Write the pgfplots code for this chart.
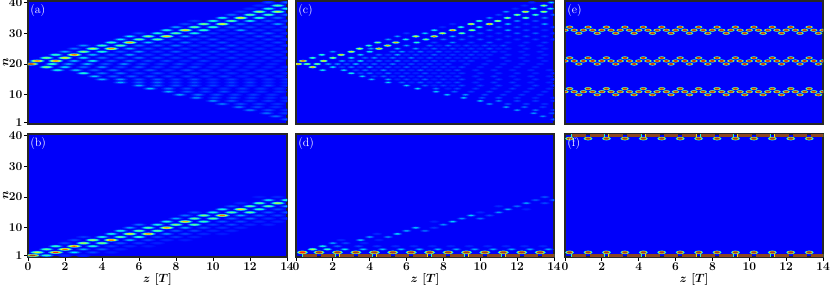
\documentclass[border=0pt]{standalone}
\usepackage{pgfplots}
\usepackage{pgfplotstable}
\pgfplotsset{compat=1.18}
\pgfplotstableread[row sep=\\]{z n v\\
13 40 .2\\ 14 40 .25\\
12.5 39 .15\\ 13.5 39 .5\\
12 38 .15\\ 13 38 .42\\ 14 38 .42\\
11.5 37 .18\\ 12.5 37 .58\\ 13.5 37 .62\\
11 36 .25\\ 12 36 .5\\ 13 36 .48\\ 14 36 .25\\
10.5 35 .4\\ 11.5 35 .68\\ 12.5 35 .45\\ 13.5 35 .25\\
9 34 .18\\ 10 34 .42\\ 11 34 .5\\ 12 34 .38\\ 13 34 .22\\ 14 34 .18\\
8.5 33 .2\\ 9.5 33 .55\\ 10.5 33 .68\\ 11.5 33 .25\\ 12.5 33 .18\\ 13.5 33 .3\\
8 32 .3\\ 9 32 .5\\ 10 32 .45\\ 11 32 .22\\ 12 32 .2\\ 13 32 .15\\ 14 32 .2\\
7.5 31 .4\\ 8.5 31 .72\\ 9.5 31 .45\\ 10.5 31 .18\\ 11.5 31 .3\\ 12.5 31 .18\\ 13.5 31 .15\\
6 30 .2\\ 7 30 .4\\ 8 30 .5\\ 9 30 .4\\ 10 30 .18\\ 11 30 .15\\ 12 30 .2\\ 13 30 .22\\ 14 30 .15\\
5.5 29 .35\\ 6.5 29 .55\\ 7.5 29 .72\\ 8.5 29 .3\\ 9.5 29 .2\\ 10.5 29 .15\\ 11.5 29 .16\\ 12.5 29 .2\\ 13.5 29 .18\\
5 28 .35\\ 6 28 .5\\ 7 28 .5\\ 8 28 .22\\ 9 28 .18\\ 10 28 .2\\ 11 28 .15\\ 12 28 .15\\ 13 28 .18\\ 14 28 .15\\
4.5 27 .45\\ 5.5 27 .75\\ 6.5 27 .32\\ 7.5 27 .2\\ 8.5 27 .25\\ 9.5 27 .16\\ 10.5 27 .2\\ 11.5 27 .14\\ 12.5 27 .14\\ 13.5 27 .18\\
3 26 .28\\ 4 26 .45\\ 5 26 .5\\ 6 26 .25\\ 7 26 .22\\ 8 26 .25\\ 9 26 .18\\ 10 26 .18\\ 11 26 .2\\ 12 26 .15\\ 13 26 .15\\ 14 26 .16\\
2.5 25 .25\\ 3.5 25 .6\\ 4.5 25 .78\\ 5.5 25 .3\\ 6.5 25 .2\\ 7.5 25 .2\\ 8.5 25 .18\\ 9.5 25 .15\\ 10.5 25 .2\\ 11.5 25 .15\\ 12.5 25 .16\\ 13.5 25 .14\\
2 24 .3\\ 3 24 .55\\ 4 24 .42\\ 5 24 .22\\ 6 24 .28\\ 7 24 .18\\ 8 24 .22\\ 9 24 .16\\ 10 24 .18\\ 11 24 .18\\ 12 24 .14\\ 13 24 .16\\ 14 24 .14\\
1.5 23 .45\\ 2.5 23 .85\\ 3.5 23 .32\\ 4.5 23 .22\\ 5.5 23 .3\\ 6.5 23 .18\\ 7.5 23 .2\\ 8.5 23 .15\\ 9.5 23 .18\\ 10.5 23 .15\\ 11.5 23 .16\\ 12.5 23 .15\\ 13.5 23 .15\\
1 22 .55\\ 2 22 .7\\ 3 22 .35\\ 4 22 .25\\ 5 22 .22\\ 6 22 .25\\ 7 22 .2\\ 8 22 .18\\ 9 22 .2\\ 10 22 .15\\ 11 22 .18\\ 12 22 .14\\ 13 22 .16\\ 14 22 .14\\
.5 21 .82\\ 1.5 21 .82\\ 2.5 21 .32\\ 3.5 21 .38\\ 4.5 21 .22\\ 5.5 21 .25\\ 6.5 21 .2\\ 7.5 21 .2\\ 8.5 21 .15\\ 9.5 21 .18\\ 10.5 21 .14\\ 11.5 21 .16\\ 12.5 21 .14\\ 13.5 21 .14\\
.15 20 .98\\ 1.3 20 .45\\ 2.2 20 .3\\ 3.2 20 .32\\ 4.2 20 .22\\ 5.2 20 .28\\ 6.2 20 .2\\ 7.2 20 .18\\ 8.2 20 .2\\ 9.2 20 .15\\ 10.2 20 .16\\ 11.2 20 .14\\ 12.2 20 .15\\ 13.2 20 .14\\
1 19 .55\\ 2 19 .35\\ 3 19 .25\\ 4 19 .28\\ 5 19 .2\\ 6 19 .22\\ 7 19 .18\\ 8 19 .18\\ 9 19 .2\\ 10 19 .14\\ 11 19 .16\\ 12 19 .14\\ 13 19 .14\\ 14 19 .14\\
1.6 18 .38\\ 2.6 18 .32\\ 3.6 18 .22\\ 4.6 18 .25\\ 5.6 18 .18\\ 6.6 18 .22\\ 7.6 18 .16\\ 8.6 18 .2\\ 9.6 18 .16\\ 10.6 18 .16\\ 11.6 18 .14\\ 12.6 18 .15\\ 13.6 18 .14\\
3 17 .42\\ 4 17 .25\\ 5 17 .25\\ 6 17 .18\\ 7 17 .2\\ 8 17 .16\\ 9 17 .18\\ 10 17 .16\\ 11 17 .16\\ 12 17 .16\\ 13 17 .14\\ 14 17 .14\\
3.6 16 .32\\ 4.6 16 .22\\ 5.6 16 .22\\ 6.6 16 .2\\ 7.6 16 .18\\ 8.6 16 .18\\ 9.6 16 .16\\ 10.6 16 .18\\ 11.6 16 .14\\ 12.6 16 .16\\ 13.6 16 .14\\
4 15 .3\\ 5 15 .28\\ 6 15 .2\\ 7 15 .22\\ 8 15 .18\\ 9 15 .2\\ 10 15 .16\\ 11 15 .18\\ 12 15 .14\\ 13 15 .16\\ 14 15 .16\\
5 14 .3\\ 6 14 .22\\ 7 14 .24\\ 8 14 .18\\ 9 14 .2\\ 10 14 .16\\ 11 14 .18\\ 12 14 .18\\ 13 14 .14\\ 14 14 .14\\
6 13 .3\\ 7 13 .22\\ 8 13 .2\\ 9 13 .2\\ 10 13 .18\\ 11 13 .18\\ 12 13 .16\\ 13 13 .18\\ 14 13 .14\\
6.6 12 .32\\ 7.6 12 .25\\ 8.6 12 .2\\ 9.6 12 .18\\ 10.6 12 .16\\ 11.6 12 .18\\ 12.6 12 .16\\ 13.6 12 .15\\
7.6 11 .3\\ 8.6 11 .22\\ 9.6 11 .18\\ 10.6 11 .2\\ 11.6 11 .16\\ 12.6 11 .16\\ 13.6 11 .16\\
8.2 10 .3\\ 9.2 10 .25\\ 10.2 10 .2\\ 11.2 10 .18\\ 12.2 10 .18\\ 13.2 10 .16\\
9.1 9 .28\\ 10.1 9 .2\\ 11.1 9 .2\\ 12.1 9 .18\\ 13.1 9 .16\\ 14 9 .14\\
10 8 .28\\ 11 8 .22\\ 12 8 .18\\ 13 8 .18\\ 14 8 .16\\
10.5 7 .26\\ 11.5 7 .2\\ 12.5 7 .18\\ 13.5 7 .16\\
11.4 6 .26\\ 12.4 6 .2\\ 13.4 6 .16\\
12 5 .26\\ 13 5 .2\\ 14 5 .16\\
12.9 4 .25\\ 13.9 4 .18\\
13.4 3 .24\\
14 2 .22\\
}\tA
\pgfplotstableread[row sep=\\]{z n v\\
.25 1 .98\\ 1 1 .45\\ 2 1 .15\\ 3 1 .1\\
.5 2 .65\\ 1.5 2 .9\\ 2.5 2 .35\\ 3.5 2 .2\\ 4.5 2 .1\\
1 3 .5\\ 2 3 .85\\ 3 3 .3\\ 4 3 .22\\ 5 3 .12\\
1.5 4 .45\\ 2.5 4 .85\\ 3.5 4 .42\\ 4.5 4 .18\\ 5.5 4 .14\\ 6.5 4 .1\\
2 5 .2\\ 3 5 .62\\ 4 5 .55\\ 5 5 .22\\ 6 5 .18\\ 7 5 .12\\
2.5 6 .2\\ 3.5 6 .6\\ 4.5 6 .85\\ 5.5 6 .32\\ 6.5 6 .2\\ 7.5 6 .14\\ 8.5 6 .1\\
3 7 .18\\ 4 7 .4\\ 5 7 .5\\ 6 7 .45\\ 7 7 .2\\ 8 7 .18\\ 9 7 .12\\
4.5 8 .4\\ 5.5 8 .7\\ 6.5 8 .8\\ 7.5 8 .28\\ 8.5 8 .2\\ 9.5 8 .14\\ 10.5 8 .1\\
5 9 .4\\ 6 9 .5\\ 7 9 .5\\ 8 9 .22\\ 9 9 .2\\ 10 9 .14\\ 11 9 .12\\
5.5 10 .3\\ 6.5 10 .5\\ 7.5 10 .78\\ 8.5 10 .3\\ 9.5 10 .2\\ 10.5 10 .16\\ 11.5 10 .12\\
6 11 .25\\ 7 11 .4\\ 8 11 .55\\ 9 11 .5\\ 10 11 .18\\ 11 11 .2\\ 12 11 .14\\ 13 11 .12\\
7.5 12 .4\\ 8.5 12 .75\\ 9.5 12 .45\\ 10.5 12 .22\\ 11.5 12 .2\\ 12.5 12 .14\\ 13.5 12 .12\\
8 13 .3\\ 9 13 .5\\ 10 13 .5\\ 11 13 .22\\ 12 13 .24\\ 13 13 .16\\ 14 13 .14\\
8.5 14 .25\\ 9.5 14 .55\\ 10.5 14 .82\\ 11.5 14 .3\\ 12.5 14 .22\\ 13.5 14 .18\\
9 15 .2\\ 10 15 .4\\ 11 15 .5\\ 12 15 .5\\ 13 15 .22\\ 14 15 .22\\
10.5 16 .4\\ 11.5 16 .7\\ 12.5 16 .45\\ 13.5 16 .2\\
11 17 .22\\ 12 17 .5\\ 13 17 .5\\ 14 17 .3\\
11.5 18 .15\\ 12.5 18 .5\\ 13.5 18 .62\\
13 19 .35\\ 14 19 .45\\
12.5 20 .1\\ 13.5 20 .15\\
}\tB
\pgfplotstableread[row sep=\\]{z n v\\
12.8 40 .15\\ 13.85 40 .35\\
12.4 39 .15\\ 13.45 39 .6\\
11.9 38 .15\\ 12.9 38 .45\\ 13.8 38 .4\\
11.4 37 .3\\ 12.45 37 .75\\ 13.45 37 .65\\
11 36 .2\\ 12 36 .6\\ 13 36 .5\\ 14 36 .25\\
10.5 35 .3\\ 11.47 35 .6\\ 12.47 35 .55\\ 13.5 35 .28\\
9.94 34 .5\\ 10.95 34 .65\\ 12 34 .3\\ 13 34 .22\\
8.5 33 .15\\ 9.5 33 .75\\ 10.5 33 .85\\ 11.5 33 .35\\ 12.5 33 .2\\ 13.5 33 .32\\
7.95 32 .15\\ 8.95 32 .45\\ 9.95 32 .42\\ 11 32 .25\\ 12 32 .22\\ 13 32 .16\\ 14 32 .2\\
7.5 31 .4\\ 8.5 31 .85\\ 9.55 31 .6\\ 10.5 31 .25\\ 11.5 31 .32\\ 12.5 31 .2\\ 13.5 31 .15\\
6 30 .18\\ 7 30 .35\\ 7.95 30 .7\\ 9 30 .55\\ 10 30 .22\\ 11 30 .18\\ 12 30 .24\\ 13 30 .24\\ 14 30 .15\\
5.5 29 .3\\ 6.5 29 .7\\ 7.5 29 .8\\ 8.5 29 .32\\ 9.5 29 .22\\ 10.5 29 .16\\ 11.5 29 .18\\ 12.5 29 .22\\ 13.5 29 .18\\
5 28 .3\\ 5.96 28 .42\\ 7.05 28 .55\\ 8 28 .25\\ 9 28 .22\\ 10 28 .22\\ 11 28 .18\\ 12 28 .16\\ 13 28 .18\\ 14 28 .15\\
4.43 27 .55\\ 5.42 27 .75\\ 6.55 27 .45\\ 7.5 27 .2\\ 8.5 27 .28\\ 9.5 27 .18\\ 10.5 27 .22\\ 11.5 27 .16\\ 12.5 27 .16\\ 13.5 27 .18\\
3.95 26 .45\\ 4.97 26 .75\\ 6 26 .3\\ 7.25 26 .25\\ 7.75 26 .15\\ 8.25 26 .26\\ 8.75 26 .15\\ 9.25 26 .2\\ 9.75 26 .14\\ 10.25 26 .2\\ 10.75 26 .14\\ 11.25 26 .2\\ 12.25 26 .16\\ 13.25 26 .16\\
3.45 25 .65\\ 4.07 25 .3\\ 4.5 25 .78\\ 5.5 25 .32\\ 6.5 25 .3\\ 7 25 .16\\ 7.5 25 .24\\ 8 25 .14\\ 8.5 25 .2\\ 9 25 .14\\ 9.5 25 .18\\ 10 25 .14\\ 10.5 25 .22\\ 11 25 .13\\ 11.5 25 .16\\ 12.5 25 .16\\ 13.5 25 .14\\
2 24 .3\\ 3 24 .7\\ 4 24 .42\\ 5.25 24 .25\\ 5.75 24 .3\\ 6.25 24 .18\\ 6.75 24 .26\\ 7.25 24 .16\\ 7.75 24 .24\\ 8.25 24 .15\\ 8.75 24 .18\\ 9.25 24 .14\\ 9.75 24 .2\\ 10.25 24 .14\\ 10.75 24 .18\\ 11.25 24 .13\\ 12.25 24 .14\\ 13.25 24 .16\\
1.4 23 .45\\ 2.45 23 .75\\ 3.5 23 .35\\ 4.5 23 .25\\ 5 23 .18\\ 5.5 23 .32\\ 6 23 .16\\ 6.5 23 .2\\ 7 23 .15\\ 7.5 23 .24\\ 8 23 .14\\ 8.5 23 .18\\ 9 23 .13\\ 9.5 23 .2\\ 10 23 .13\\ 10.5 23 .16\\ 11.5 23 .16\\ 12.5 23 .15\\ 13.5 23 .14\\
.9 22 .5\\ 2 22 .6\\ 3 22 .38\\ 3.75 22 .25\\ 4.25 22 .3\\ 4.75 22 .18\\ 5.25 22 .26\\ 5.75 22 .16\\ 6.25 22 .28\\ 6.75 22 .16\\ 7.25 22 .22\\ 7.75 22 .14\\ 8.25 22 .2\\ 8.75 22 .14\\ 9.25 22 .2\\ 9.75 22 .13\\ 10.25 22 .16\\ 11.25 22 .18\\ 12.25 22 .14\\ 13.25 22 .15\\
.38 21 .95\\ 1.5 21 .75\\ 2.5 21 .32\\ 3 21 .22\\ 3.5 21 .38\\ 4 21 .18\\ 4.5 21 .25\\ 5 21 .18\\ 5.5 21 .28\\ 6 21 .15\\ 6.5 21 .22\\ 7 21 .15\\ 7.5 21 .2\\ 8 21 .14\\ 8.5 21 .18\\ 9 21 .13\\ 9.5 21 .18\\ 10.5 21 .15\\ 11.5 21 .16\\ 12.5 21 .14\\ 13.5 21 .14\\
.12 20 .85\\ .6 20 .6\\ 1.15 20 .58\\ 1.75 20 .32\\ 2.25 20 .3\\ 2.75 20 .22\\ 3.25 20 .34\\ 3.75 20 .2\\ 4.25 20 .25\\ 4.75 20 .18\\ 5.25 20 .28\\ 5.75 20 .15\\ 6.25 20 .22\\ 6.75 20 .14\\ 7.25 20 .2\\ 7.75 20 .14\\ 8.25 20 .2\\ 9.25 20 .16\\ 10.25 20 .16\\ 11.25 20 .15\\ 12.25 20 .15\\ 13.25 20 .14\\
.9 19 .8\\ 2 19 .38\\ 2.5 19 .2\\ 3 19 .28\\ 3.5 19 .18\\ 4 19 .3\\ 4.5 19 .18\\ 5 19 .22\\ 5.5 19 .15\\ 6 19 .24\\ 6.5 19 .14\\ 7 19 .2\\ 7.5 19 .14\\ 8 19 .18\\ 8.5 19 .13\\ 9 19 .2\\ 10 19 .15\\ 11 19 .16\\ 12 19 .14\\ 13 19 .14\\
1.45 18 .38\\ 2.6 18 .35\\ 3.25 18 .2\\ 3.75 18 .25\\ 4.25 18 .16\\ 4.75 18 .28\\ 5.25 18 .15\\ 5.75 18 .2\\ 6.25 18 .14\\ 6.75 18 .24\\ 7.25 18 .14\\ 7.75 18 .18\\ 8.25 18 .13\\ 8.75 18 .2\\ 9.75 18 .16\\ 10.75 18 .16\\ 11.75 18 .14\\ 12.75 18 .15\\ 13.75 18 .14\\
3 17 .42\\ 3.5 17 .2\\ 4 17 .26\\ 4.5 17 .15\\ 5 17 .26\\ 5.5 17 .14\\ 6 17 .18\\ 6.5 17 .14\\ 7 17 .22\\ 7.5 17 .13\\ 8 17 .16\\ 8.5 17 .13\\ 9 17 .18\\ 10 17 .16\\ 11 17 .16\\ 12 17 .16\\ 13 17 .14\\ 14 17 .14\\
3.6 16 .34\\ 4.25 16 .18\\ 4.75 16 .24\\ 5.25 16 .14\\ 5.75 16 .22\\ 6.25 16 .13\\ 6.75 16 .2\\ 7.25 16 .13\\ 7.75 16 .18\\ 8.25 16 .13\\ 8.75 16 .18\\ 9.75 16 .16\\ 10.75 16 .18\\ 11.75 16 .14\\ 12.75 16 .16\\ 13.75 16 .14\\
4.1 15 .32\\ 5 15 .3\\ 5.5 15 .15\\ 6 15 .2\\ 6.5 15 .14\\ 7 15 .24\\ 7.5 15 .13\\ 8 15 .18\\ 8.5 15 .12\\ 9 15 .2\\ 10 15 .16\\ 11 15 .18\\ 12 15 .14\\ 13 15 .16\\ 14 15 .16\\
5 14 .34\\ 5.75 14 .24\\ 6.25 14 .14\\ 6.75 14 .24\\ 7.25 14 .13\\ 7.75 14 .2\\ 8.25 14 .13\\ 8.75 14 .2\\ 9.75 14 .16\\ 10.75 14 .18\\ 11.75 14 .18\\ 12.75 14 .14\\ 13.75 14 .14\\
6 13 .34\\ 7 13 .24\\ 7.5 13 .14\\ 8 13 .2\\ 8.5 13 .12\\ 9 13 .2\\ 10 13 .18\\ 11 13 .18\\ 12 13 .16\\ 13 13 .18\\ 14 13 .14\\
6.6 12 .36\\ 7.6 12 .26\\ 8.25 12 .14\\ 8.75 12 .2\\ 9.75 12 .18\\ 10.75 12 .16\\ 11.75 12 .18\\ 12.75 12 .16\\ 13.75 12 .15\\
7.6 11 .34\\ 8.6 11 .24\\ 9.5 11 .18\\ 10.5 11 .2\\ 11.5 11 .16\\ 12.5 11 .16\\ 13.5 11 .16\\
8.2 10 .34\\ 9.2 10 .3\\ 10.25 10 .2\\ 11.25 10 .18\\ 12.25 10 .18\\ 13.25 10 .16\\
9.1 9 .34\\ 10.1 9 .22\\ 11 9 .22\\ 12 9 .18\\ 13 9 .16\\ 14 9 .14\\
10 8 .34\\ 11 8 .28\\ 12 8 .2\\ 13 8 .18\\ 14 8 .16\\
10.5 7 .3\\ 11.5 7 .22\\ 12.5 7 .2\\ 13.5 7 .16\\
11.4 6 .32\\ 12.4 6 .26\\ 13.4 6 .18\\
12 5 .3\\ 13 5 .26\\ 14 5 .18\\
12.9 4 .3\\ 13.9 4 .22\\
13.4 3 .28\\
14 2 .24\\
}\tC
\pgfplotstableread[row sep=\\]{z n v\\
.9 3 .62\\ 1.7 3 .45\\ 2.65 3 .36\\ 3.65 3 .33\\ 4.7 3 .32\\ 5.7 3 .32\\ 6.7 3 .31\\ 7.7 3 .31\\ 8.7 3 .3\\ 9.7 3 .3\\ 10.7 3 .3\\ 11.7 3 .3\\ 12.7 3 .3\\ 13.7 3 .3\\
1.45 4 .4\\ 2.25 4 .25\\ 3.4 4 .2\\ 4.4 4 .17\\ 5.4 4 .15\\ 6.4 4 .15\\ 7.4 4 .14\\ 8.4 4 .14\\ 9.4 4 .14\\ 10.4 4 .14\\ 11.4 4 .14\\ 12.4 4 .14\\ 13.4 4 .14\\
2 5 .3\\ 2.7 5 .2\\ 3.7 5 .12\\
2.45 6 .15\\ 3.5 6 .33\\ 4.5 6 .12\\
4 7 .3\\ 5 7 .28\\
4.4 8 .15\\ 5.5 8 .35\\
6 9 .3\\ 7 9 .25\\
6.5 10 .33\\ 7.5 10 .18\\
8 11 .28\\
8.5 12 .33\\ 7.5 12 .12\\
9 13 .28\\ 10 13 .25\\
9.5 14 .33\\ 10.5 14 .2\\
10 15 .15\\ 11 15 .28\\
11.5 16 .3\\ 12.5 16 .12\\
11 17 .15\\ 12 17 .25\\
12.5 18 .3\\ 13.5 18 .2\\
13 19 .22\\ 14 19 .25\\
13.5 20 .22\\
}\tD
\pgfplotstableread[row sep=\\]{z n v\\
.35 2 .9\\ 1.25 2 .98\\ 2.25 2 .98\\ 3.25 2 .98\\ 4.25 2 .98\\ 5.25 2 .98\\ 6.25 2 .98\\ 7.25 2 .98\\ 8.25 2 .98\\ 9.25 2 .98\\ 10.25 2 .98\\ 11.25 2 .98\\ 12.25 2 .98\\ 13.25 2 .98\\
}\tDtwo
\pgfplotstableread[row sep=\\]{z n v\\
-.25 1 1\\ .75 1 1\\ 1.75 1 1\\ 2.75 1 1\\ 3.75 1 1\\ 4.75 1 1\\ 5.75 1 1\\ 6.75 1 1\\ 7.75 1 1\\ 8.75 1 1\\ 9.75 1 1\\ 10.75 1 1\\ 11.75 1 1\\ 12.75 1 1\\ 13.75 1 1\\
}\tBandL
\pgfplotstableread[row sep=\\]{z n v\\
-.25 40 1\\ .75 40 1\\ 1.75 40 1\\ 2.75 40 1\\ 3.75 40 1\\ 4.75 40 1\\ 5.75 40 1\\ 6.75 40 1\\ 7.75 40 1\\ 8.75 40 1\\ 9.75 40 1\\ 10.75 40 1\\ 11.75 40 1\\ 12.75 40 1\\ 13.75 40 1\\
}\tBandU
\pgfplotstableread[row sep=\\]{z n v\\
.25 2 .98\\ 1.25 2 .98\\ 2.25 2 .98\\ 3.25 2 .98\\ 4.25 2 .98\\ 5.25 2 .98\\ 6.25 2 .98\\ 7.25 2 .98\\ 8.25 2 .98\\ 9.25 2 .98\\ 10.25 2 .98\\ 11.25 2 .98\\ 12.25 2 .98\\ 13.25 2 .98\\
.25 39 .98\\ 1.25 39 .98\\ 2.25 39 .98\\ 3.25 39 .98\\ 4.25 39 .98\\ 5.25 39 .98\\ 6.25 39 .98\\ 7.25 39 .98\\ 8.25 39 .98\\ 9.25 39 .98\\ 10.25 39 .98\\ 11.25 39 .98\\ 12.25 39 .98\\ 13.25 39 .98\\
}\tF
\pgfplotstableread[row sep=\\]{z n v\\
.25 32 .95\\ 1.25 32 .95\\ 2.25 32 .95\\ 3.25 32 .95\\ 4.25 32 .95\\ 5.25 32 .95\\ 6.25 32 .95\\ 7.25 32 .95\\ 8.25 32 .95\\ 9.25 32 .95\\ 10.25 32 .95\\ 11.25 32 .95\\ 12.25 32 .95\\ 13.25 32 .95\\
0 31 .95\\ .5 31 .95\\ 1 31 .95\\ 1.5 31 .95\\ 2 31 .95\\ 2.5 31 .95\\ 3 31 .95\\ 3.5 31 .95\\ 4 31 .95\\ 4.5 31 .95\\ 5 31 .95\\ 5.5 31 .95\\ 6 31 .95\\ 6.5 31 .95\\ 7 31 .95\\ 7.5 31 .95\\ 8 31 .95\\ 8.5 31 .95\\ 9 31 .95\\ 9.5 31 .95\\ 10 31 .95\\ 10.5 31 .95\\ 11 31 .95\\ 11.5 31 .95\\ 12 31 .95\\ 12.5 31 .95\\ 13 31 .95\\ 13.5 31 .95\\ 14 31 .95\\
.75 30 .95\\ 1.75 30 .95\\ 2.75 30 .95\\ 3.75 30 .95\\ 4.75 30 .95\\ 5.75 30 .95\\ 6.75 30 .95\\ 7.75 30 .95\\ 8.75 30 .95\\ 9.75 30 .95\\ 10.75 30 .95\\ 11.75 30 .95\\ 12.75 30 .95\\ 13.75 30 .95\\
.25 22 .95\\ 1.25 22 .95\\ 2.25 22 .95\\ 3.25 22 .95\\ 4.25 22 .95\\ 5.25 22 .95\\ 6.25 22 .95\\ 7.25 22 .95\\ 8.25 22 .95\\ 9.25 22 .95\\ 10.25 22 .95\\ 11.25 22 .95\\ 12.25 22 .95\\ 13.25 22 .95\\
0 21 .95\\ .5 21 .95\\ 1 21 .95\\ 1.5 21 .95\\ 2 21 .95\\ 2.5 21 .95\\ 3 21 .95\\ 3.5 21 .95\\ 4 21 .95\\ 4.5 21 .95\\ 5 21 .95\\ 5.5 21 .95\\ 6 21 .95\\ 6.5 21 .95\\ 7 21 .95\\ 7.5 21 .95\\ 8 21 .95\\ 8.5 21 .95\\ 9 21 .95\\ 9.5 21 .95\\ 10 21 .95\\ 10.5 21 .95\\ 11 21 .95\\ 11.5 21 .95\\ 12 21 .95\\ 12.5 21 .95\\ 13 21 .95\\ 13.5 21 .95\\ 14 21 .95\\
.75 20 .95\\ 1.75 20 .95\\ 2.75 20 .95\\ 3.75 20 .95\\ 4.75 20 .95\\ 5.75 20 .95\\ 6.75 20 .95\\ 7.75 20 .95\\ 8.75 20 .95\\ 9.75 20 .95\\ 10.75 20 .95\\ 11.75 20 .95\\ 12.75 20 .95\\ 13.75 20 .95\\
.25 12 .95\\ 1.25 12 .95\\ 2.25 12 .95\\ 3.25 12 .95\\ 4.25 12 .95\\ 5.25 12 .95\\ 6.25 12 .95\\ 7.25 12 .95\\ 8.25 12 .95\\ 9.25 12 .95\\ 10.25 12 .95\\ 11.25 12 .95\\ 12.25 12 .95\\ 13.25 12 .95\\
0 11 .95\\ .5 11 .95\\ 1 11 .95\\ 1.5 11 .95\\ 2 11 .95\\ 2.5 11 .95\\ 3 11 .95\\ 3.5 11 .95\\ 4 11 .95\\ 4.5 11 .95\\ 5 11 .95\\ 5.5 11 .95\\ 6 11 .95\\ 6.5 11 .95\\ 7 11 .95\\ 7.5 11 .95\\ 8 11 .95\\ 8.5 11 .95\\ 9 11 .95\\ 9.5 11 .95\\ 10 11 .95\\ 10.5 11 .95\\ 11 11 .95\\ 11.5 11 .95\\ 12 11 .95\\ 12.5 11 .95\\ 13 11 .95\\ 13.5 11 .95\\ 14 11 .95\\
.75 10 .95\\ 1.75 10 .95\\ 2.75 10 .95\\ 3.75 10 .95\\ 4.75 10 .95\\ 5.75 10 .95\\ 6.75 10 .95\\ 7.75 10 .95\\ 8.75 10 .95\\ 9.75 10 .95\\ 10.75 10 .95\\ 11.75 10 .95\\ 12.75 10 .95\\ 13.75 10 .95\\
}\tE
% one scatter layer: fraction of the value, table, mark, half width, half height
\newcommand{\layer}[5]{\addplot[scatter,only marks,mark=#3,mark size=1pt,
  mark options={xscale=#4,yscale=#5,line width=0.01pt,draw opacity=0},
  scatter/use mapped color={draw=mapped color,fill=mapped color,draw opacity=0},
  point meta={\thisrow{v}*#1}] table[x=z,y=n]{#2};}
\newcommand{\blobs}[4]{%
  \layer{0.3}{#1}{#2}{#3*1.0}{#4*1.0}
  \layer{0.55}{#1}{#2}{#3*0.82}{#4*0.8}
  \layer{0.8}{#1}{#2}{#3*0.62}{#4*0.6}
  \layer{1.0}{#1}{#2}{#3*0.38}{#4*0.38}}
\newcommand{\boxes}[3]{%
  \layer{0.34}{#1}{*}{#2*1.0}{#3*1.0}
  \layer{0.5}{#1}{*}{#2*0.88}{#3*0.88}
  \layer{0.75}{#1}{*}{#2*0.74}{#3*0.76}
  \layer{1.0}{#1}{*}{#2*0.58}{#3*0.62}}
\newcommand{\band}[1]{%
  \layer{0.42}{#1}{square*}{7.4}{1.9}
  \layer{0.72}{#1}{square*}{7.2}{1.5}
  \layer{1.0}{#1}{square*}{7.0}{1.15}}
\pgfplotsset{
  colormap={fj}{rgb255(0cm)=(0,0,255); rgb255(15mm)=(0,40,255); rgb255(25mm)=(0,110,255); rgb255(35mm)=(0,235,255); rgb255(48mm)=(70,255,170); rgb255(68mm)=(240,255,20); rgb255(9cm)=(255,40,0); rgb255(10cm)=(140,70,30)},
  panel/.style={
    scale only axis,width=258pt,height=123pt,anchor=south west,
    xmin=0,xmax=14,ymin=0.5,ymax=40.5,point meta min=0,point meta max=1,
    axis background/.style={fill={rgb,255:red,0;green,0;blue,250}},
    axis line style={line width=1.1pt,color=black!85},
    tick style={line width=0.9pt,color=black,major tick length=4pt},
    tick align=outside,xtick pos=bottom,ytick pos=left,
    ticklabel style={font=\boldmath\fontsize{11.5}{12}\selectfont,inner sep=1.5pt},
    xtick=\empty,ytick=\empty,
    label style={font=\boldmath\bfseries\fontsize{12}{13}\selectfont},
    clip=true,clip marker paths=true,
  },
  leftp/.style={ytick={1,10,20,30,40},ylabel={$n$},
    ylabel style={at={(axis description cs:0,0.5)},anchor=south,yshift=16pt}},
  botp/.style={xtick={0,2,4,6,8,10,12,14},xlabel={$z$ [$T$]},
    xlabel style={at={(axis description cs:0.5,0)},anchor=north,yshift=-13pt}},
}
\newcommand{\tag}[1]{\node[white,anchor=north west,inner sep=0pt,font=\fontsize{12}{13}\selectfont] at (axis description cs:0.008,0.97) {(#1)};}
\begin{document}
\begin{tikzpicture}
\path[use as bounding box] (0pt,0pt) rectangle (830pt,286pt);
\begin{axis}[panel,leftp,at={(28pt,162pt)},width=259pt]
\blobs{\tA}{*}{7.8}{1.5}\tag{a}
\end{axis}
\begin{axis}[panel,leftp,botp,at={(28pt,29pt)},width=259pt]
\blobs{\tB}{*}{7.8}{1.5}\tag{b}
\end{axis}
\begin{axis}[panel,at={(296pt,162pt)}]
\blobs{\tC}{*}{4.6}{1.25}\tag{c}
\end{axis}
\begin{axis}[panel,botp,at={(296pt,29pt)}]
\blobs{\tD}{*}{5.5}{1.35}
\boxes{\tDtwo}{5.6}{1.8}
\band{\tBandL}\tag{d}
\end{axis}
\begin{axis}[panel,at={(565pt,162pt)}]
\boxes{\tE}{3.9}{1.5}\tag{e}
\end{axis}
\begin{axis}[panel,botp,at={(565pt,29pt)}]
\boxes{\tF}{4.5}{1.8}
\band{\tBandL}
\band{\tBandU}\tag{f}
\end{axis}
\end{tikzpicture}
\end{document}
